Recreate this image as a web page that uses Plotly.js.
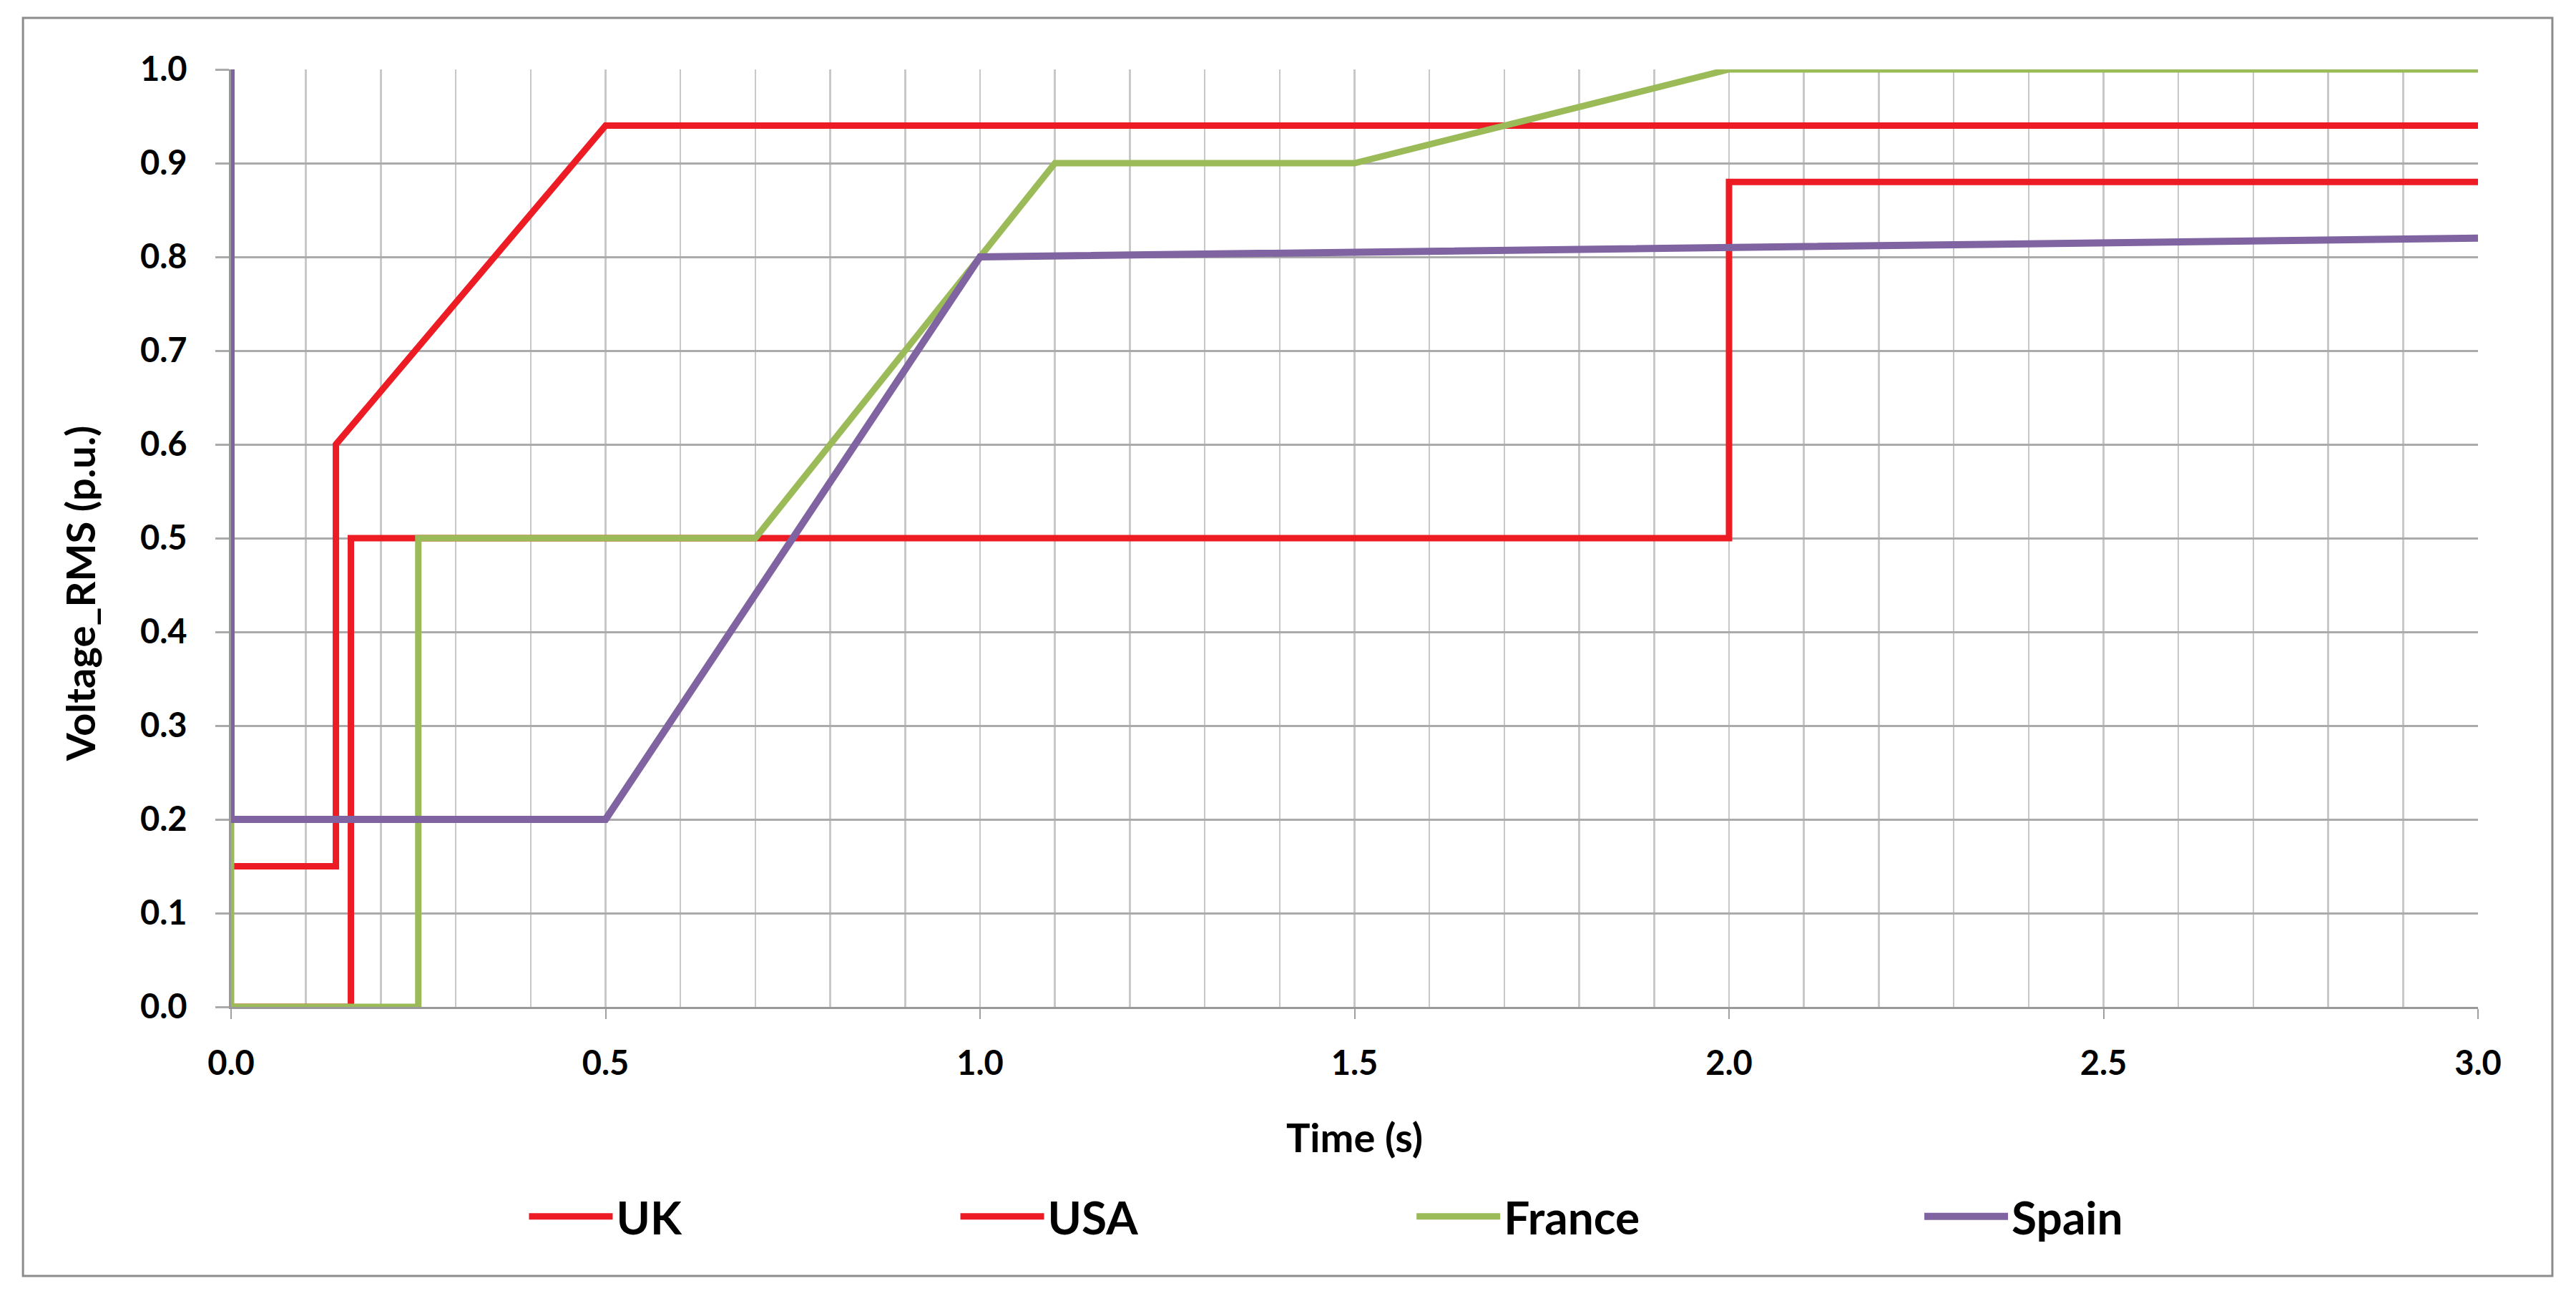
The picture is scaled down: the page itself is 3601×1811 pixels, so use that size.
<!DOCTYPE html>
<html>
<head>
<meta charset="utf-8">
<script src="https://cdn.plot.ly/plotly-3.0.1.min.js"></script>
<style>
  body { margin: 0; background: #fff; }
  #plotDiv { width: 3601px; height: 1811px; }
</style>
</head>
<body>
<div id="plotDiv"></div>
<script>
// ride-through curves
var ukTime = [0, 0.14, 0.14, 0.5, 3.0];
var ukVolt = [0.15, 0.15, 0.60, 0.94, 0.94];

var usaTime = [0, 0.16, 0.16, 2.0, 2.0, 3.0];
var usaVolt = [0, 0, 0.5, 0.5, 0.88, 0.88];

var franceTime = [0, 0, 0.25, 0.25, 0.7, 1.1, 1.5, 2.0, 3.0];
var franceVolt = [0.2, 0, 0, 0.5, 0.5, 0.9, 0.9, 1.0, 1.0];

var spainTime = [0, 0, 0.5, 1.0, 3.0];
var spainVolt = [1.0, 0.2, 0.2, 0.8, 0.82];

var seriesNames = ['UK', 'USA', 'France', 'Spain'];
var xTitle = 'Time (s)';
var yTitle = 'Voltage_RMS (p.u.)';

var fontFam = 'Lato, "Open Sans", sans-serif';
var red = '#ed1c24';
var green = '#9bbb59';
var purple = '#8064a2';

function mkLine(x, y, name, color, width, legendId) {
  return {
    type: 'scatter',
    mode: 'lines',
    x: x,
    y: y,
    name: name,
    legend: legendId,
    line: { color: color, width: width, shape: 'linear' },
    hoverinfo: 'x+y+name'
  };
}

var plotData = [
  mkLine(ukTime, ukVolt, seriesNames[0], red, 9, 'legend'),
  mkLine(usaTime, usaVolt, seriesNames[1], red, 9, 'legend2'),
  mkLine(franceTime, franceVolt, seriesNames[2], green, 9, 'legend3'),
  mkLine(spainTime, spainVolt, seriesNames[3], purple, 10, 'legend4')
];

// one legend per series so the gaps can follow the original
function mkLegend(xpos) {
  return {
    orientation: 'h',
    x: xpos,
    y: -0.2237,
    xanchor: 'left',
    yanchor: 'middle',
    itemwidth: 117,
    borderwidth: 0,
    bgcolor: 'rgba(0,0,0,0)',
    font: { family: fontFam, size: 64, weight: 700, color: '#000' }
  };
}

var layout = {
  width: 3601,
  height: 1811,
  paper_bgcolor: '#fff',
  plot_bgcolor: '#fff',
  margin: { l: 323, r: 137, t: 97, b: 404, pad: 0 },
  showlegend: true,
  legend: mkLegend(0.131),
  legend2: mkLegend(0.323),
  legend3: mkLegend(0.526),
  legend4: mkLegend(0.752),
  xaxis: {
    range: [0, 3],
    dtick: 0.5,
    tick0: 0,
    tickformat: '.1f',
    showgrid: true,
    gridcolor: '#c8c8c8',
    gridwidth: 2.5,
    minor: { dtick: 0.1, showgrid: true, gridcolor: '#c8c8c8', gridwidth: 2.5, ticks: '' },
    ticks: 'outside',
    ticklen: 14,
    tickwidth: 2,
    tickcolor: '#a0a0a0',
    showline: true,
    linecolor: '#999999',
    linewidth: 3,
    zeroline: false,
    ticklabelstandoff: 22,
    tickfont: { family: fontFam, size: 47, weight: 700, color: '#000' },
    title: {
      text: xTitle,
      standoff: 60,
      font: { family: fontFam, size: 56, weight: 700, color: '#000' }
    },
    automargin: false
  },
  yaxis: {
    range: [0, 1],
    dtick: 0.1,
    tick0: 0,
    tickformat: '.1f',
    showgrid: true,
    gridcolor: '#ababab',
    gridwidth: 3,
    ticks: 'outside',
    ticklen: 19,
    tickwidth: 3,
    tickcolor: '#ababab',
    showline: true,
    linecolor: '#999999',
    linewidth: 3,
    zeroline: false,
    ticklabelstandoff: 30,
    tickfont: { family: fontFam, size: 47, weight: 700, color: '#000' },
    automargin: false
  },
  annotations: [{
    text: yTitle,
    xref: 'paper',
    yref: 'paper',
    x: -0.0675,
    y: 0.441,
    xanchor: 'center',
    yanchor: 'middle',
    textangle: -90,
    showarrow: false,
    font: { family: fontFam, size: 56, weight: 700, color: '#000' }
  }],
  shapes: [{
    type: 'rect',
    xref: 'paper',
    yref: 'paper',
    x0: -0.0926,
    x1: 1.0331,
    y0: -0.2870,
    y1: 1.0550,
    line: { color: '#8c8c8c', width: 3 },
    fillcolor: 'rgba(0,0,0,0)',
    layer: 'below'
  }]
};

Plotly.newPlot('plotDiv', plotData, layout, { staticPlot: true });
</script>
</body>
</html>
